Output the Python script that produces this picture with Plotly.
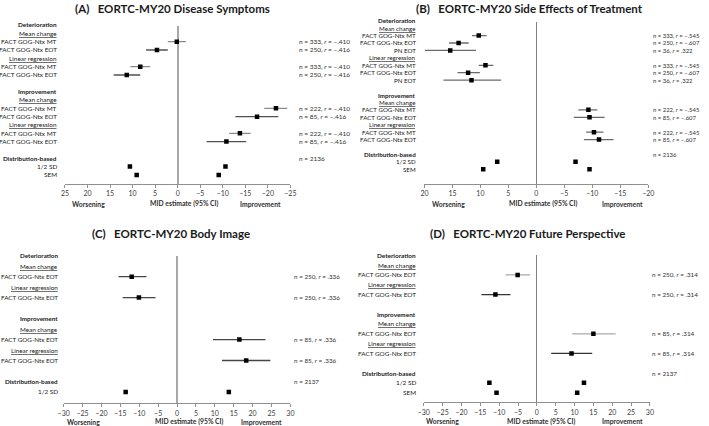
import plotly.graph_objects as go

# ---------------- Panel A: Disease Symptoms ----------------
A_title = "(A)\u00a0\u00a0\u00a0EORTC-MY20 Disease Symptoms"
A_groups = ["Deterioration", "Improvement"]
A_methods = ["Mean change", "Linear regression"]
A_anchors = [["FACT GOG-Ntx MT", "FACT GOG-Ntx EOT"],
             ["FACT GOG-Ntx MT", "FACT GOG-Ntx EOT"]]
A_mid = [0.2, 4.6, 8.3, 11.3, -21.8, -17.6, -13.8, -10.8]
A_ci1 = [2.2, 7.0, 10.5, 14.2, -19.2, -12.8, -11.4, -6.4]
A_ci2 = [-1.8, 2.2, 6.1, 8.3, -24.3, -22.3, -16.2, -15.2]
A_n = ["n = 333, <i>r</i> = −.410", "n = 250, <i>r</i> = −.416",
       "n = 333, <i>r</i> = −.410", "n = 250, <i>r</i> = −.416",
       "n = 222, <i>r</i> = −.410", "n = 85, <i>r</i> = −.416",
       "n = 222, <i>r</i> = −.410", "n = 85, <i>r</i> = −.416"]
A_dist_labels = ["1/2 SD", "SEM"]
A_dist_det = [10.6, 9.1]
A_dist_imp = [-10.6, -9.1]
A_dist_n = "n = 2136"
A_ticks = [25, 20, 15, 10, 5, 0, -5, -10, -15, -20, -25]

# ---------------- Panel B: Side Effects of Treatment ----------------
B_title = "(B)\u00a0\u00a0\u00a0EORTC-MY20 Side Effects of Treatment"
B_groups = ["Deterioration", "Improvement"]
B_methods = ["Mean change", "Linear regression"]
B_anchors = [["FACT GOG-Ntx MT", "FACT GOG-Ntx EOT", "PN EOT"],
             ["FACT GOG-Ntx MT", "FACT GOG-Ntx EOT"]]
B_mid = [10.3, 13.9, 15.4, 9.1, 12.2, 11.6, -9.3, -9.5, -10.3, -11.2]
B_ci1 = [11.5, 15.6, 19.9, 10.3, 14.1, 16.6, -7.5, -6.7, -8.9, -8.5]
B_ci2 = [8.9, 12.1, 10.8, 7.7, 10.1, 6.3, -10.9, -12.2, -12.0, -13.8]
B_n = ["n = 333, <i>r</i> = −.545", "n = 250, <i>r</i> = −.607", "n = 36, <i>r</i> = .322",
       "n = 333, <i>r</i> = −.545", "n = 250, <i>r</i> = −.607", "n = 36, <i>r</i> = .322",
       "n = 222, <i>r</i> = −.545", "n = 85, <i>r</i> = −.607",
       "n = 222, <i>r</i> = −.545", "n = 85, <i>r</i> = −.607"]
B_dist_labels = ["1/2 SD", "SEM"]
B_dist_det = [7.0, 9.5]
B_dist_imp = [-7.0, -9.5]
B_dist_n = "n = 2136"
B_ticks = [20, 15, 10, 5, 0, -5, -10, -15, -20]

# ---------------- Panel C: Body Image ----------------
C_title = "(C)\u00a0\u00a0\u00a0EORTC-MY20 Body Image"
C_groups = ["Deterioration", "Improvement"]
C_methods = ["Mean change", "Linear regression"]
C_anchors = [["FACT GOG-Ntx EOT"], ["FACT GOG-Ntx EOT"]]
C_mid = [-12.0, -10.1, 16.5, 18.3]
C_ci1 = [-15.5, -14.4, 9.5, 11.9]
C_ci2 = [-8.1, -5.7, 23.4, 24.7]
C_n = ["n = 250, <i>r</i> = .336", "n = 250, <i>r</i> = .336",
       "n = 85, <i>r</i> = .336", "n = 85, <i>r</i> = .336"]
C_dist_labels = ["1/2 SD"]
C_dist_det = [-13.6]
C_dist_imp = [13.7]
C_dist_n = "n = 2137"
C_ticks = [-30, -25, -20, -15, -10, -5, 0, 5, 10, 15, 20, 25, 30]

# ---------------- Panel D: Future Perspective ----------------
D_title = "(D)\u00a0\u00a0\u00a0EORTC-MY20 Future Perspective"
D_groups = ["Deterioration", "Improvement"]
D_methods = ["Mean change", "Linear regression"]
D_anchors = [["FACT GOG-Ntx EOT"], ["FACT GOG-Ntx EOT"]]
D_mid = [-5.1, -11.0, 15.0, 9.2]
D_ci1 = [-8.3, -14.7, 9.4, 3.8]
D_ci2 = [-1.8, -7.0, 20.9, 14.7]
D_n = ["n = 250, <i>r</i> = .314", "n = 250, <i>r</i> = .314",
       "n = 85, <i>r</i> = .314", "n = 85, <i>r</i> = .314"]
D_dist_labels = ["1/2 SD", "SEM"]
D_dist_det = [-12.6, -10.7]
D_dist_imp = [12.5, 10.7]
D_dist_n = "n = 2137"
D_ticks = [-30, -25, -20, -15, -10, -5, 0, 5, 10, 15, 20, 25, 30]

FOOT = ["Worsening", "MID estimate (95% CI)", "Improvement"]

# ---------------- layout (pixel geometry & styles) ----------------
W, H = 709, 426
LABEL_FONT = "Lato, sans-serif"
TITLE_FONT = "Lato, Open Sans, sans-serif"


def ci_color_A(method, anchor):
    return "#8a8a8a" if anchor.endswith("MT") else "#505050"


def ci_color_B(method, anchor):
    return "#6a6a6a"


def ci_color_C(method, anchor):
    return "#454545"


def ci_color_D(method, anchor):
    return "#aaaaaa" if method == "Mean change" else "#333333"


panels = [
    dict(title=A_title, groups=A_groups, methods=A_methods, anchors=A_anchors,
         mid=A_mid, c1=A_ci1, c2=A_ci2, n=A_n, dl=A_dist_labels, dd=A_dist_det,
         di=A_dist_imp, dn=A_dist_n, ticks=A_ticks, xr=[25, -25],
         xpx=(60, 289.3), ytop=25.7, ybot=184, row0=25, rowh=8.33,
         labx=54, labsize=6.4, nx=295.7, nsize=6.5, title_xy=(169.5, 9),
         foot_x=(84, 181.7, 259), foot_y=203.5,
         zl_w=2, zl_c="#a8a8a8", ci=ci_color_A),
    dict(title=B_title, groups=B_groups, methods=B_methods, anchors=B_anchors,
         mid=B_mid, c1=B_ci1, c2=B_ci2, n=B_n, dl=B_dist_labels, dd=B_dist_det,
         di=B_dist_imp, dn=B_dist_n, ticks=B_ticks, xr=[20, -20],
         xpx=(425.7, 653.3), ytop=21.7, ybot=183.5, row0=20.7, rowh=7.43,
         labx=419, labsize=6.2, nx=656, nsize=5.9, title_xy=(533, 9),
         foot_x=(449.7, 546.7, 626.7), foot_y=203.5,
         zl_w=1, zl_c="#808080", ci=ci_color_B),
    dict(title=C_title, groups=C_groups, methods=C_methods, anchors=C_anchors,
         mid=C_mid, c1=C_ci1, c2=C_ci2, n=C_n, dl=C_dist_labels, dd=C_dist_det,
         di=C_dist_imp, dn=C_dist_n, ticks=C_ticks, xr=[-30, 30],
         xpx=(58.7, 289.3), ytop=255.7, ybot=403.3, row0=255.7, rowh=10.48,
         labx=55, labsize=6.3, nx=290.7, nsize=6.3, title_xy=(167.8, 233),
         foot_x=(79, 187, 260), foot_y=421.5,
         zl_w=2, zl_c="#a8a8a8", ci=ci_color_C),
    dict(title=D_title, groups=D_groups, methods=D_methods, anchors=D_anchors,
         mid=D_mid, c1=D_ci1, c2=D_ci2, n=D_n, dl=D_dist_labels, dd=D_dist_det,
         di=D_dist_imp, dn=D_dist_n, ticks=D_ticks, xr=[-30, 30],
         xpx=(425, 655), ytop=255.3, ybot=402.3, row0=255.3, rowh=9.81,
         labx=419, labsize=6.4, nx=655, nsize=6.3, title_xy=(530, 233),
         foot_x=(444.5, 545, 626.7), foot_y=421,
         zl_w=1, zl_c="#808080", ci=ci_color_D),
]


def build_rows(groups, methods, anchors, dist_labels):
    rows = []
    for gi, g in enumerate(groups):
        rows.append((g, "group", None, None))
        for m in methods:
            rows.append((m, "method", m, None))
            for a in anchors[gi]:
                rows.append((a, "est", m, a))
        rows.append(("", "blank", None, None))
    rows.append(("Distribution-based", "group", None, None))
    for d in dist_labels:
        rows.append((d, "dist", None, None))
    return rows


def px(x):
    return x / W


def py(y):
    return 1 - y / H


fig = go.Figure()
annotations = []
layout_axes = {}

for k, P in enumerate(panels):
    sfx = "" if k == 0 else str(k + 1)
    xa, ya = "x" + sfx, "y" + sfx
    rows = build_rows(P["groups"], P["methods"], P["anchors"], P["dl"])
    est_rows = [i for i, r in enumerate(rows) if r[1] == "est"]
    dist_rows = [i for i, r in enumerate(rows) if r[1] == "dist"]
    dist_hdr = [i for i, r in enumerate(rows) if r[0] == "Distribution-based"][0]

    def row_paper(i, P=P):
        return py(P["row0"] + i * P["rowh"])

    # confidence intervals
    for j, i in enumerate(est_rows):
        fig.add_trace(go.Scatter(
            x=[P["c1"][j], P["c2"][j]], y=[i, i], mode="lines",
            line=dict(color=P["ci"](rows[i][2], rows[i][3]), width=1.3),
            xaxis=xa, yaxis=ya, hoverinfo="skip", showlegend=False))
    # point estimates
    fig.add_trace(go.Scatter(
        x=P["mid"], y=est_rows, mode="markers",
        marker=dict(symbol="square", size=4.5, color="black"),
        xaxis=xa, yaxis=ya, showlegend=False))
    # distribution-based
    fig.add_trace(go.Scatter(
        x=P["dd"] + P["di"], y=dist_rows + dist_rows, mode="markers",
        marker=dict(symbol="square", size=4.5, color="black"),
        xaxis=xa, yaxis=ya, showlegend=False))

    # axes
    nrow_top = (P["ytop"] - P["row0"]) / P["rowh"]
    nrow_bot = (P["ybot"] - P["row0"]) / P["rowh"]
    layout_axes["xaxis" + sfx] = dict(
        domain=[px(P["xpx"][0]), px(P["xpx"][1])], range=P["xr"], anchor=ya,
        tickvals=P["ticks"], ticks="outside", ticklen=3, tickcolor="#909090",
        showline=True, linecolor="#909090", linewidth=1,
        zeroline=True, zerolinecolor=P["zl_c"], zerolinewidth=P["zl_w"],
        showgrid=False, tickfont=dict(size=7, color="#404040", family=LABEL_FONT),
        fixedrange=True)
    layout_axes["yaxis" + sfx] = dict(
        domain=[py(P["ybot"]), py(P["ytop"])], range=[nrow_bot, nrow_top],
        anchor=xa, visible=False, fixedrange=True)

    # row labels
    for i, (t, kind, m, a) in enumerate(rows):
        if kind == "blank":
            continue
        if kind == "group":
            txt = "<b>" + t + "</b>"
        elif kind == "method":
            txt = '<span style="text-decoration:underline">' + t + "</span>"
        else:
            txt = t
        annotations.append(dict(
            text=txt, xref="paper", yref="paper", x=px(P["labx"]), y=row_paper(i),
            xanchor="right", yanchor="middle", showarrow=False,
            font=dict(size=P["labsize"], color="#202020", family=LABEL_FONT)))
    # n annotations
    for j, i in enumerate(est_rows):
        annotations.append(dict(
            text=P["n"][j], xref="paper", yref="paper", x=px(P["nx"]), y=row_paper(i),
            xanchor="left", yanchor="middle", showarrow=False,
            font=dict(size=P["nsize"], color="#303030", family=LABEL_FONT)))
    annotations.append(dict(
        text=P["dn"], xref="paper", yref="paper", x=px(P["nx"]), y=row_paper(dist_hdr),
        xanchor="left", yanchor="middle", showarrow=False,
        font=dict(size=P["nsize"], color="#303030", family=LABEL_FONT)))
    # title
    annotations.append(dict(
        text="<b>" + P["title"] + "</b>", xref="paper", yref="paper",
        x=px(P["title_xy"][0]), y=py(P["title_xy"][1]),
        xanchor="center", yanchor="middle", showarrow=False,
        font=dict(size=11.5, color="#1a1a1a", family=TITLE_FONT)))
    # footer labels
    for t, fx in zip(FOOT, P["foot_x"]):
        annotations.append(dict(
            text="<b>" + t + "</b>", xref="paper", yref="paper",
            x=px(fx), y=py(P["foot_y"]), xanchor="center", yanchor="middle",
            showarrow=False, font=dict(size=6.8, color="#303030", family=LABEL_FONT)))

fig.update_layout(
    width=W, height=H, margin=dict(l=0, r=0, t=0, b=0),
    paper_bgcolor="white", plot_bgcolor="white", showlegend=False,
    hovermode=False, annotations=annotations, **layout_axes)

# the page's default 8px body margin would shift the figure; remove it
fig.write_html("out.html", config={"displayModeBar": False, "staticPlot": True},
               post_script="document.body.style.margin='0px';")
